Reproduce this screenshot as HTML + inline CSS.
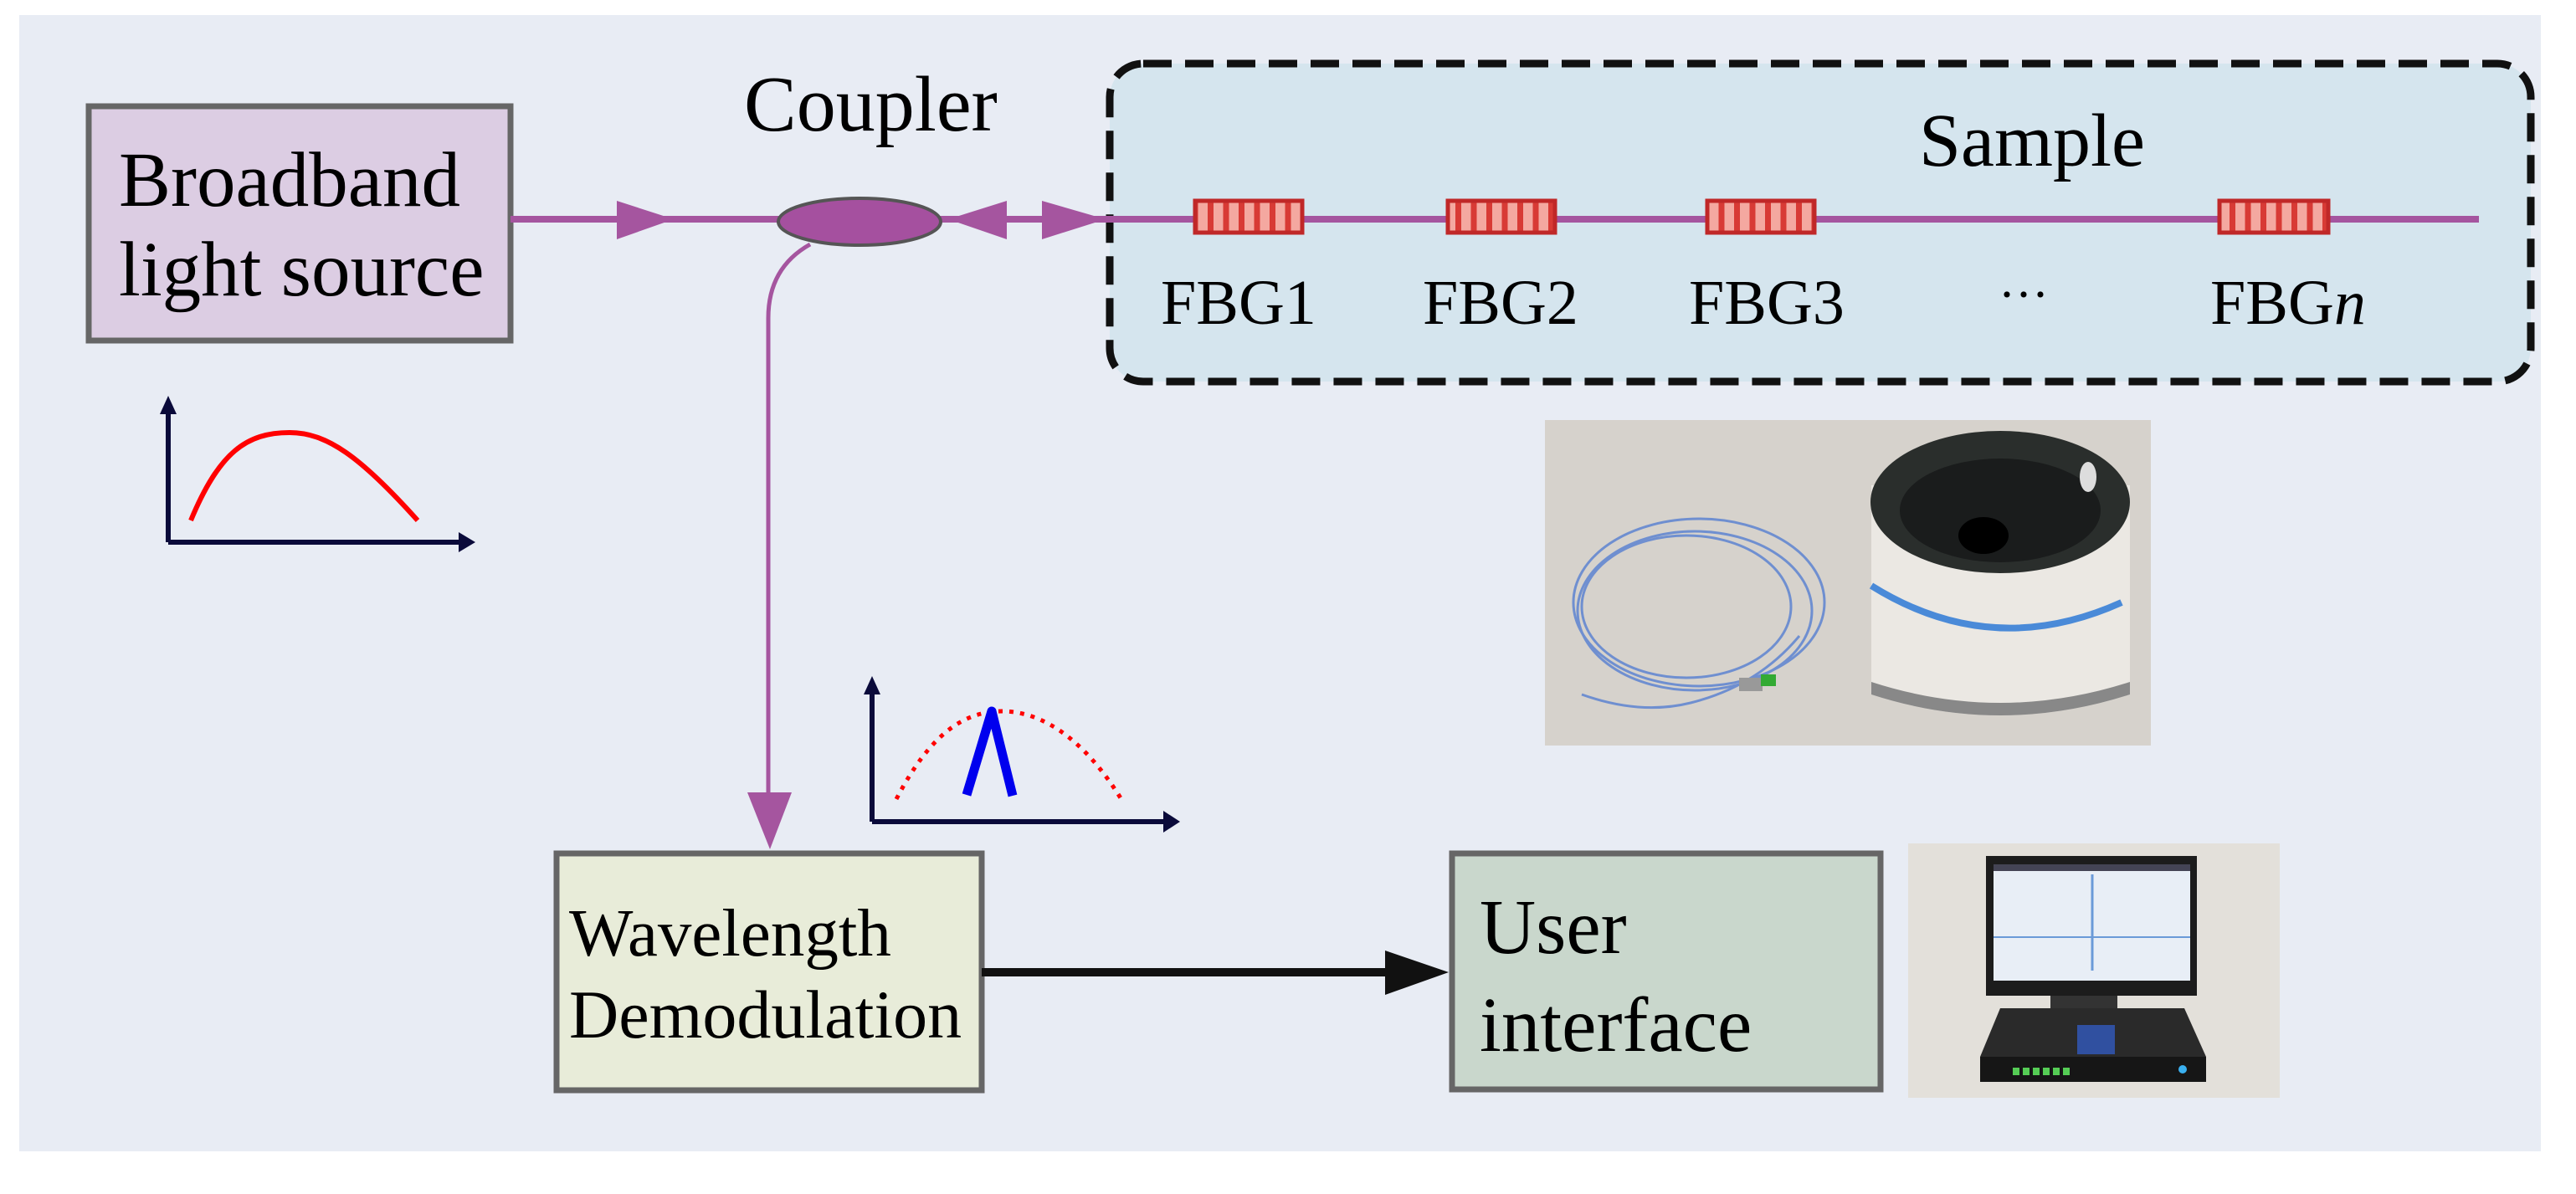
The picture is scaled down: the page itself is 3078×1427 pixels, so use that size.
<!DOCTYPE html>
<html><head><meta charset="utf-8"><style>
html,body{margin:0;padding:0;background:#fff;}
svg{display:block;}
text{font-family:"Liberation Serif",serif;fill:#000;}
</style></head><body>
<svg width="3078" height="1427" viewBox="0 0 3078 1427" xmlns="http://www.w3.org/2000/svg">
<defs>
<pattern id="fbgp" width="18.5" height="40" patternUnits="userSpaceOnUse">
<rect width="18.5" height="40" fill="#f4a8a0"/><rect x="0" width="7" height="40" fill="#d83a35"/>
</pattern>
</defs>
<rect x="0" y="0" width="3078" height="1427" fill="#fff"/>
<rect x="23" y="18" width="3013" height="1358" fill="#e8ecf4"/>

<rect x="1326" y="76" width="1698" height="380" rx="40" fill="#d5e5ee" stroke="#111" stroke-width="9" stroke-dasharray="34,16"/>

<rect x="106" y="127" width="504" height="280" fill="#dccde3" stroke="#666" stroke-width="7"/>
<text x="142" y="246" font-size="93">Broadband</text>
<text x="142" y="353" font-size="93">light source</text>

<line x1="610" y1="262" x2="2962" y2="262" stroke="#a5559f" stroke-width="8"/>
<polygon points="737,240 805,262 737,286" fill="#a5559f"/>
<polygon points="1203,240 1133,262 1203,286" fill="#a5559f"/>
<polygon points="1245,240 1321,262 1245,286" fill="#a5559f"/>
<ellipse cx="1027" cy="265" rx="97" ry="28" fill="#a5509f" stroke="#555" stroke-width="4"/>
<text x="889" y="156" font-size="94">Coupler</text>
<text x="2293" y="198" font-size="90">Sample</text>

<g stroke="#c02828" stroke-width="5">
<rect x="1428" y="240" width="128" height="38" fill="url(#fbgp)"/>
<rect x="1730" y="240" width="128" height="38" fill="url(#fbgp)"/>
<rect x="2040" y="240" width="128" height="38" fill="url(#fbgp)"/>
<rect x="2652" y="240" width="130" height="38" fill="url(#fbgp)"/>
</g>
<text x="1387" y="387" font-size="76">FBG1</text>
<text x="1700" y="387" font-size="76">FBG2</text>
<text x="2018" y="387" font-size="76">FBG3</text>
<text x="2388" y="372" font-size="60">···</text>
<text x="2641" y="387" font-size="76">FBG<tspan font-style="italic">n</tspan></text>

<path d="M968,292 Q918,320 918,380 L918,950" fill="none" stroke="#a5559f" stroke-width="5"/>
<polygon points="893,947 946,947 920,1015" fill="#a5559f"/>

<g stroke="#0a0a3a" stroke-width="6" fill="none">
<line x1="201" y1="490" x2="201" y2="648"/><line x1="201" y1="648" x2="550" y2="648"/>
</g>
<polygon points="191,495 211,495 201,473" fill="#0a0a3a"/>
<polygon points="548,636 548,660 568,648" fill="#0a0a3a"/>
<path d="M228,622 C262,540 295,517 346,517 C390,517 430,545 499,622" fill="none" stroke="#f00" stroke-width="6"/>

<g stroke="#0a0a3a" stroke-width="6" fill="none">
<line x1="1042" y1="825" x2="1042" y2="982"/><line x1="1042" y1="982" x2="1392" y2="982"/>
</g>
<polygon points="1032,830 1052,830 1042,808" fill="#0a0a3a"/>
<polygon points="1390,969 1390,995 1410,982" fill="#0a0a3a"/>
<path d="M1071,955 C1110,880 1150,850 1197,850 C1250,850 1300,890 1341,957" fill="none" stroke="#f00" stroke-width="5" stroke-dasharray="5,8"/>
<path d="M1155,950 L1185,850 L1210,951" fill="none" stroke="#0000ee" stroke-width="11" stroke-linejoin="round"/>

<rect x="665" y="1020" width="508" height="283" fill="#e8ecd9" stroke="#666" stroke-width="7"/>
<text x="680" y="1142" font-size="81">Wavelength</text>
<text x="680" y="1240" font-size="82">Demodulation</text>

<line x1="1173" y1="1162" x2="1665" y2="1162" stroke="#111" stroke-width="10"/>
<polygon points="1655,1136 1731,1162 1655,1189" fill="#111"/>

<rect x="1735" y="1020" width="512" height="282" fill="#c9d7cc" stroke="#666" stroke-width="7"/>
<text x="1768" y="1139" font-size="93">User</text>
<text x="1768" y="1256" font-size="93">interface</text>

<rect x="1846" y="502" width="724" height="389" fill="#d6d2cc"/>
<g fill="none" stroke="#6f8fd0" stroke-width="3">
<ellipse cx="2030" cy="720" rx="150" ry="100"/>
<ellipse cx="2025" cy="730" rx="140" ry="95"/>
<ellipse cx="2015" cy="725" rx="125" ry="85"/>
<path d="M2150,760 Q2100,820 2020,840 Q1960,855 1890,830"/>
</g>
<rect x="2078" y="810" width="28" height="16" fill="#999"/>
<rect x="2104" y="806" width="18" height="14" fill="#3a3"/>
<path d="M2236,580 L2236,830 Q2390,880 2545,830 L2545,580 Z" fill="#ebe8e3"/>
<path d="M2236,830 Q2390,880 2545,830 L2545,815 Q2390,865 2236,815 Z" fill="#888"/>
<path d="M2236,700 Q2380,790 2535,720" fill="none" stroke="#4a8ad8" stroke-width="8"/>
<ellipse cx="2390" cy="600" rx="155" ry="85" fill="#2a2e2c"/>
<ellipse cx="2390" cy="610" rx="120" ry="62" fill="#1a1c1c"/>
<ellipse cx="2370" cy="640" rx="30" ry="22" fill="#000"/>
<ellipse cx="2495" cy="570" rx="10" ry="18" fill="#ddd"/>

<rect x="2280" y="1008" width="444" height="304" fill="#e3e0da"/>
<rect x="2373" y="1023" width="252" height="167" fill="#1c1c1c"/>
<rect x="2382" y="1033" width="235" height="139" fill="#e8eef6"/>
<rect x="2382" y="1033" width="235" height="8" fill="#445"/>
<line x1="2500" y1="1045" x2="2500" y2="1160" stroke="#6a9ad8" stroke-width="3"/>
<line x1="2382" y1="1120" x2="2617" y2="1120" stroke="#6a9ad8" stroke-width="2"/>
<rect x="2450" y="1190" width="80" height="20" fill="#333"/>
<polygon points="2390,1205 2610,1205 2636,1263 2366,1263" fill="#2a2a2a"/>
<rect x="2366" y="1263" width="270" height="30" fill="#161616"/>
<rect x="2482" y="1225" width="45" height="35" fill="#3050a0"/>
<g fill="#5c5"><rect x="2405" y="1276" width="8" height="9"/><rect x="2417" y="1276" width="8" height="9"/><rect x="2429" y="1276" width="8" height="9"/><rect x="2441" y="1276" width="8" height="9"/><rect x="2453" y="1276" width="8" height="9"/><rect x="2465" y="1276" width="8" height="9"/></g>
<circle cx="2608" cy="1278" r="5" fill="#3ab0f0"/>
</svg>
</body></html>
